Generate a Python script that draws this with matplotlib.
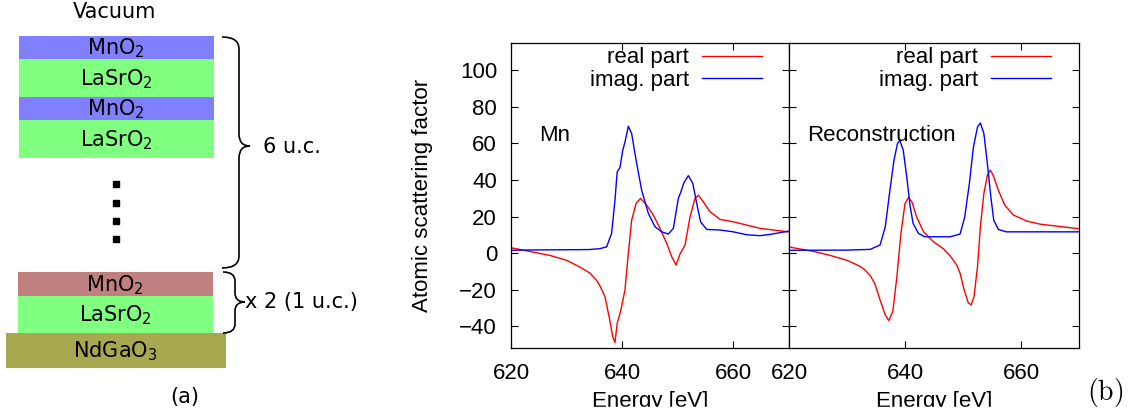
import numpy as np
import matplotlib
matplotlib.use("Agg")
import matplotlib.pyplot as plt
from matplotlib.patches import Rectangle, PathPatch
from matplotlib.path import Path

# --- data ---
# (a) layer stack, top to bottom
layer_names = ["MnO$_2$", "LaSrO$_2$", "MnO$_2$", "LaSrO$_2$"]
interface_names = ["MnO$_2$", "LaSrO$_2$"]
substrate_name = "NdGaO$_3$"
brace_labels = ["6 u.c.", "x 2 (1 u.c.)"]

# (b) left panel: measured Mn
mn_E_imag = [620, 624, 630, 634, 636.0, 637.2, 638.1, 638.7, 639.1, 639.6, 640.1, 640.5, 641.1,
             641.7, 642.5, 643.5, 644.7, 645.9, 647.1, 648.3, 649.2, 650.1, 650.5, 651.1, 651.9,
             652.7, 653.4, 654.1, 655.2, 657.6, 660.0, 662.4, 664.8, 666.6, 670]
mn_imag = [1.5, 1.7, 1.8, 1.9, 2.4, 3.4, 10.8, 29.0, 44.4, 46.8, 56.3, 60.8, 69.4,
           65.4, 50.8, 34.4, 21.7, 14.4, 11.6, 10.4, 13.5, 29.9, 33.0, 38.5, 42.4,
           38.1, 27.2, 17.1, 12.9, 12.6, 11.6, 10.0, 9.5, 10.2, 12.0]
mn_E_real = [620, 624, 627, 630, 632.4, 634.2, 635.4, 636.0, 636.9, 637.7, 638.3, 638.7, 639.1,
             639.7, 640.5, 641.1, 641.7, 642.5, 643.3, 644.4, 645.6, 646.8, 648.0, 648.9, 649.7,
             650.4, 651.3, 652.2, 653.1, 653.7, 654.6, 655.8, 657.6, 660.0, 662.4, 664.8, 667.8, 670]
mn_real = [2.9, 0.5, -1.3, -4.0, -7.7, -11.0, -15.0, -18.0, -23.9, -35.7, -45.7, -49.0, -38.4,
           -32.1, -20.2, -0.2, 18.0, 27.2, 29.9, 26.2, 20.8, 13.5, 5.3, -2.0, -6.6,
           -0.5, 4.4, 19.8, 29.9, 31.7, 28.0, 22.6, 18.4, 17.1, 15.3, 13.5, 12.4, 11.5]

# (b) right panel: reconstruction
rc_E_imag = [620, 630, 634.0, 635.7, 636.6, 637.4, 638.1, 638.7, 639.1, 639.7, 640.3, 640.9, 641.4,
             642.3, 643.4, 647.8, 649.5, 650.3, 651.1, 651.8, 652.5, 653.0, 653.6, 654.2, 654.8,
             655.3, 656.1, 657.5, 670]
rc_imag = [1.5, 1.6, 2.0, 4.4, 14.4, 34.4, 50.8, 59.9, 61.7, 56.3, 41.7, 25.3, 16.2,
           10.8, 8.9, 8.9, 10.4, 19.8, 38.1, 58.1, 69.0, 71.2, 65.4, 49.0, 30.8,
           18.0, 12.9, 11.6, 11.6]
rc_E_real = [620, 624.2, 627.1, 630, 632.2, 633.0, 634.0, 634.8, 635.7, 636.6, 637.2, 637.9, 638.6,
             639.3, 640.0, 640.6, 641.2, 642.0, 643.2, 644.9, 646.6, 647.8, 648.9, 649.5, 650.2,
             650.9, 651.4, 651.9, 652.5, 653.0, 653.6, 654.2, 654.7, 655.2, 656.1, 657.2, 658.7,
             661.0, 663.3, 670]
rc_real = [3.3, 0.9, -1.3, -4.0, -7.2, -9.0, -12.3, -16.8, -25.7, -33.9, -37.0, -32.1, -13.0,
           10.8, 27.1, 30.4, 28.0, 19.8, 11.6, 6.2, 2.4, -1.6, -6.5, -11.1, -20.2,
           -27.2, -28.4, -23.9, -7.5, 14.4, 32.6, 42.6, 45.4, 42.6, 34.4, 26.2, 20.8,
           17.5, 15.8, 13.3]

panel_notes = ["Mn", "Reconstruction"]
series_labels = ["real part", "imag. part"]
x_ticks = [620, 640, 660]
y_ticks = [-40, -20, 0, 20, 40, 60, 80, 100]

W, H = 1132, 419
fig = plt.figure(figsize=(W / 100, H / 100), dpi=100)

# ---------- (a) schematic, drawn in pixel coordinates ----------
sk = fig.add_axes([0, 0, 1, 1])
sk.set_xlim(0, W)
sk.set_ylim(H, 0)
sk.axis("off")

blue, green, red, olive = "#8080ff", "#80ff80", "#c08080", "#a8a850"
sk_font = dict(family="DejaVu Sans", fontsize=15, ha="center", va="center")

tops = [36, 59, 97, 120]
bots = [59, 97, 120, 158]
for name, t, b, c in zip(layer_names, tops, bots, [blue, green, blue, green]):
    sk.add_patch(Rectangle((19, t), 195, b - t, color=c, lw=0))
    sk.text(116, (t + b) / 2 + 1, name, **sk_font)

for name, t, b, c in zip(interface_names, [272, 296], [296, 333], [red, green]):
    sk.add_patch(Rectangle((18, t), 195, b - t, color=c, lw=0))
    sk.text(115, (t + b) / 2 + 1, name, **sk_font)

sk.add_patch(Rectangle((6, 333), 220, 35, color=olive, lw=0))
sk.text(115, 351, substrate_name, **sk_font)

sk.text(115, 12, "Vacuum", **sk_font)
sk.text(185, 397, "(a)", **sk_font)
sk.plot([116] * 4, [184, 203, 221, 239], "s", color="black", ms=5)


def draw_brace(x0, xm, xt, yt, yb, ymid, r):
    verts = [(x0, yt), (xm, yt), (xm, yt + r),
             (xm, ymid - r), (xm, ymid), (xt, ymid),
             (xm, ymid), (xm, ymid + r),
             (xm, yb - r), (xm, yb), (x0, yb)]
    codes = [Path.MOVETO, Path.CURVE3, Path.CURVE3,
             Path.LINETO, Path.CURVE3, Path.CURVE3,
             Path.CURVE3, Path.CURVE3,
             Path.LINETO, Path.CURVE3, Path.CURVE3]
    sk.add_patch(PathPatch(Path(verts, codes), fill=False, lw=1.2, color="black"))


draw_brace(222, 239, 250, 37, 268, 146, 12)
draw_brace(223, 235, 245, 272, 333, 302, 9)
sk.text(263, 147, brace_labels[0], family="DejaVu Sans", fontsize=15, ha="left", va="center")
sk.text(245, 302, brace_labels[1], family="DejaVu Sans", fontsize=15, ha="left", va="center")

# ---------- (b) spectra ----------
plt.rcParams["font.family"] = ["Liberation Sans", "DejaVu Sans"]
plt.rcParams["axes.unicode_minus"] = True

FS = 16
y0, y1 = 43, 348
panels = [
    (511, 278, mn_E_real, mn_real, mn_E_imag, mn_imag, panel_notes[0], 0.10),
    (789, 290, rc_E_real, rc_real, rc_E_imag, rc_imag, panel_notes[1], 0.062),
]
axes = []
for left, width, er, re, ei, im, note, nx in panels:
    ax = fig.add_axes([left / W, (H - y1) / H, width / W, (y1 - y0) / H])
    ax.plot(er, re, color="#ff0000", lw=1.0, label=series_labels[0])
    ax.plot(ei, im, color="#0000ff", lw=1.0, label=series_labels[1])
    ax.set_xlim(620, 670)
    ax.set_ylim(-52, 115)
    ax.set_xticks(x_ticks)
    ax.set_yticks(y_ticks)
    ax.tick_params(direction="in", length=5, width=0.8, top=True, right=True,
                   labelsize=FS, pad=10)
    ax.tick_params(axis="x", pad=11)
    for s in ax.spines.values():
        s.set_linewidth(0.9)
    ax.set_xlabel("Energy [eV]", fontsize=FS, va="top")
    ax.xaxis.set_label_coords(0.5, -0.142)
    ax.text(nx, 0.698, note, transform=ax.transAxes, fontsize=FS, ha="left", va="center")
    ax.legend(loc="upper right", bbox_to_anchor=(0.92, 1.0), frameon=False, markerfirst=False,
              fontsize=FS, handlelength=2.7, handletextpad=0.6, labelspacing=0.05,
              borderaxespad=0.0, borderpad=0.2)
    axes.append(ax)

axes[0].set_ylabel("Atomic scattering factor", fontsize=FS)
axes[0].yaxis.set_label_coords(-0.28, 0.5)
axes[1].set_yticklabels([])

# bottom strip of the embedded plot image is cut off
fig.patches.append(Rectangle((480 / W, 0), 605 / W, 12 / H, transform=fig.transFigure,
                             color="white", zorder=10))

fig.text(1105 / W, 1 - 392 / H, r"$\mathrm{(b)}$", fontsize=20, ha="center", va="center",
         math_fontfamily="cm")

fig.savefig("out.png", dpi=100)
